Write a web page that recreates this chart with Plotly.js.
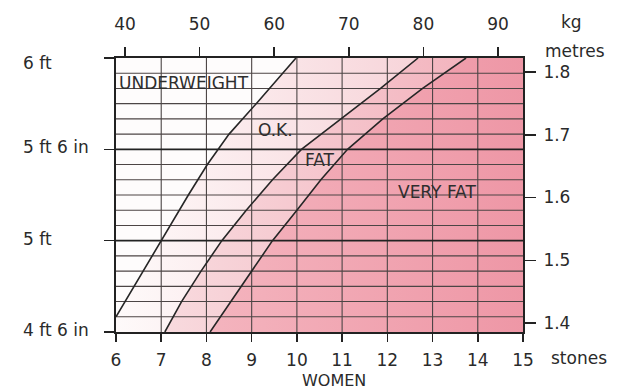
<!DOCTYPE html>
<html>
<head>
<meta charset="utf-8">
<script src="https://cdn.plot.ly/plotly-3.0.1.min.js"></script>
<style>html,body{margin:0;padding:0;background:#fff;}#chart{width:621px;height:390px;}</style>
</head>
<body>
<div id="chart"></div>
<script>
// ---- data ----
const stoneTicks = [6, 7, 8, 9, 10, 11, 12, 13, 14, 15];
const kgTicks = [40, 50, 60, 70, 80, 90];
const metreTicks = [1.4, 1.5, 1.6, 1.7, 1.8];
const heightTicksIn = [54, 60, 66, 72];
const heightLabels = ['4 ft 6 in', '5 ft', '5 ft 6 in', '6 ft'];
const inchGrid = [54,55,56,57,58,59,60,61,62,63,64,65,66,67,68,69,70,71,72];

// boundary curves (weight in stones, height in inches)
const okCurveSt = [6.0, 6.4, 6.8, 7.2, 7.6, 8.02, 8.5, 9.1, 9.7, 9.98];
const okCurveIn = [55, 57, 59, 61, 63, 65, 67, 69, 71, 72];
const fatCurveSt = [7.08, 7.45, 7.88, 8.34, 8.88, 9.46, 10.1, 10.98, 11.85, 12.68];
const fatCurveIn = [54, 56, 58, 60, 62, 64, 66, 68, 70, 72];
const veryFatCurveSt = [8.08, 8.54, 9.0, 9.46, 10.0, 10.53, 11.12, 11.9, 12.78, 13.74];
const veryFatCurveIn = [54, 56, 58, 60, 62, 64, 66, 68, 70, 72];

const regionNames = ['UNDERWEIGHT', 'O.K.', 'FAT', 'VERY FAT'];
const regionLabelSt = [6.02, 9.52, 10.51, 13.09];
const regionLabelIn = [70.36, 67.27, 65.3, 63.22];

// ---- build ----
const xMin = stoneTicks[0], xMax = stoneTicks[stoneTicks.length - 1];
const yMin = heightTicksIn[0], yMax = heightTicksIn[heightTicksIn.length - 1];
const rev = a => a.slice().reverse();

const okPoly = {
  x: [xMin].concat(okCurveSt, rev(fatCurveSt)),
  y: [yMin].concat(okCurveIn, rev(fatCurveIn))
};
const fatPoly = {
  x: fatCurveSt.concat(rev(veryFatCurveSt)),
  y: fatCurveIn.concat(rev(veryFatCurveIn))
};
const vfPoly = {
  x: veryFatCurveSt.concat([xMax, xMax]),
  y: veryFatCurveIn.concat([yMax, yMin])
};

function gridTrace(vx, hy, color, width) {
  const gx = [], gy = [];
  vx.forEach(v => { gx.push(v, v, null); gy.push(yMin, yMax, null); });
  hy.forEach(h => { gx.push(xMin, xMax, null); gy.push(h, h, null); });
  return {x: gx, y: gy, type: 'scatter', mode: 'lines', line: {color: color, width: width},
          hoverinfo: 'skip', showlegend: false, connectgaps: false};
}

const traces = [
  {x: okPoly.x, y: okPoly.y, type: 'scatter', mode: 'none', fill: 'toself',
   fillcolor: '#f9e3e6',
   fillgradient: {type: 'horizontal', colorscale: [[0, '#fefafa'], [1, '#f7d4d9']]},
   hoverinfo: 'skip', showlegend: false},
  {x: fatPoly.x, y: fatPoly.y, type: 'scatter', mode: 'none', fill: 'toself',
   fillcolor: '#f5c6ce',
   fillgradient: {type: 'horizontal', colorscale: [[0, '#f8dade'], [1, '#f3b4be']]},
   hoverinfo: 'skip', showlegend: false},
  {x: vfPoly.x, y: vfPoly.y, type: 'scatter', mode: 'none', fill: 'toself',
   fillcolor: '#f0a2af',
   fillgradient: {type: 'horizontal', colorscale: [[0, '#f4b4be'], [1, '#ee97a6']]},
   hoverinfo: 'skip', showlegend: false},
  gridTrace(stoneTicks.slice(1, -1), inchGrid.filter(h => heightTicksIn.indexOf(h) < 0), '#4c4545', 1.1),
  gridTrace([], heightTicksIn.slice(1, -1), '#222222', 1.7),
  {x: okCurveSt, y: okCurveIn, type: 'scatter', mode: 'lines', line: {color: '#262626', width: 1.6}, hoverinfo: 'skip', showlegend: false},
  {x: fatCurveSt, y: fatCurveIn, type: 'scatter', mode: 'lines', line: {color: '#262626', width: 1.6}, hoverinfo: 'skip', showlegend: false},
  {x: veryFatCurveSt, y: veryFatCurveIn, type: 'scatter', mode: 'lines', line: {color: '#262626', width: 1.6}, hoverinfo: 'skip', showlegend: false},
  {x: [kgTicks[0]], y: [metreTicks[0]], xaxis: 'x2', yaxis: 'y2', type: 'scatter', mode: 'markers',
   marker: {opacity: 0}, hoverinfo: 'skip', showlegend: false}
];

const F = 'DejaVu Sans, Arial, sans-serif';
const TC = '#2a2a2a';
const tickFont = {family: F, size: 17, color: TC};

// plot geometry in pixels, used for paper-relative text placement
const W = 621, H = 390, L = 116, R = 98, T = 58, B = 58;
const pw = W - L - R, ph = H - T - B;
const px = v => (v - L) / pw;
const py = v => (H - B - v) / ph;

const annotations = [];
heightTicksIn.forEach((h, i) => {
  annotations.push({text: heightLabels[i], x: px(21), xref: 'paper', xanchor: 'left',
    y: h, yref: 'y', yanchor: 'middle', yshift: (i === heightTicksIn.length - 1) ? -5 : 2,
    showarrow: false, font: tickFont});
});
regionNames.forEach((n, i) => {
  annotations.push({text: n, x: regionLabelSt[i], y: regionLabelIn[i], xref: 'x', yref: 'y',
    xanchor: i === 0 ? 'left' : 'center', yanchor: 'middle', showarrow: false,
    font: {family: F, size: 17, color: '#2e2e2e'}});
});
annotations.push({text: 'kg', x: px(571), y: py(22), xref: 'paper', yref: 'paper', xanchor: 'center', yanchor: 'middle', showarrow: false, font: tickFont});
annotations.push({text: 'metres', x: px(543), y: py(51), xref: 'paper', yref: 'paper', xanchor: 'left', yanchor: 'middle', showarrow: false, font: tickFont});
annotations.push({text: 'stones', x: px(549), y: py(358), xref: 'paper', yref: 'paper', xanchor: 'left', yanchor: 'middle', showarrow: false, font: tickFont});
annotations.push({text: 'WOMEN', x: px(334), y: py(380), xref: 'paper', yref: 'paper', xanchor: 'center', yanchor: 'middle', showarrow: false, font: {family: F, size: 16, color: TC}});

const layout = {
  width: W, height: H,
  margin: {l: L, r: R, t: T, b: B, pad: 0},
  paper_bgcolor: '#ffffff', plot_bgcolor: '#fefcfc',
  showlegend: false,
  xaxis: {range: [xMin, xMax], tickvals: stoneTicks, ticks: 'outside', ticklen: 8, tickwidth: 1.5, tickcolor: '#222',
          showgrid: false, zeroline: false, showline: true, linewidth: 2, linecolor: '#222', mirror: true,
          tickfont: tickFont, layer: 'above traces', ticklabelstandoff: 4, fixedrange: true},
  yaxis: {range: [yMin, yMax], tickvals: heightTicksIn, showticklabels: false, ticks: 'outside', ticklen: 10, tickwidth: 1.5, tickcolor: '#222',
          showgrid: false, zeroline: false, showline: true, linewidth: 2, linecolor: '#222', mirror: true,
          layer: 'above traces', fixedrange: true},
  xaxis2: {overlaying: 'x', side: 'top', anchor: 'y', range: [38.79, 93.35], tickvals: kgTicks,
           ticks: 'outside', ticklen: 10, tickwidth: 1.5, tickcolor: '#222', showgrid: false, zeroline: false,
           showline: false, tickfont: tickFont, ticklabelstandoff: 10, fixedrange: true},
  yaxis2: {overlaying: 'y', side: 'right', anchor: 'x', range: [1.3857, 1.8223], tickvals: metreTicks, tickformat: '.1f',
           ticks: 'outside', ticklen: 12, tickwidth: 1.5, tickcolor: '#222', showgrid: false, zeroline: false,
           showline: false, tickfont: tickFont, ticklabelstandoff: 4, fixedrange: true},
  annotations: annotations
};

Plotly.newPlot('chart', traces, layout, {staticPlot: true, displayModeBar: false});
</script>
</body>
</html>
